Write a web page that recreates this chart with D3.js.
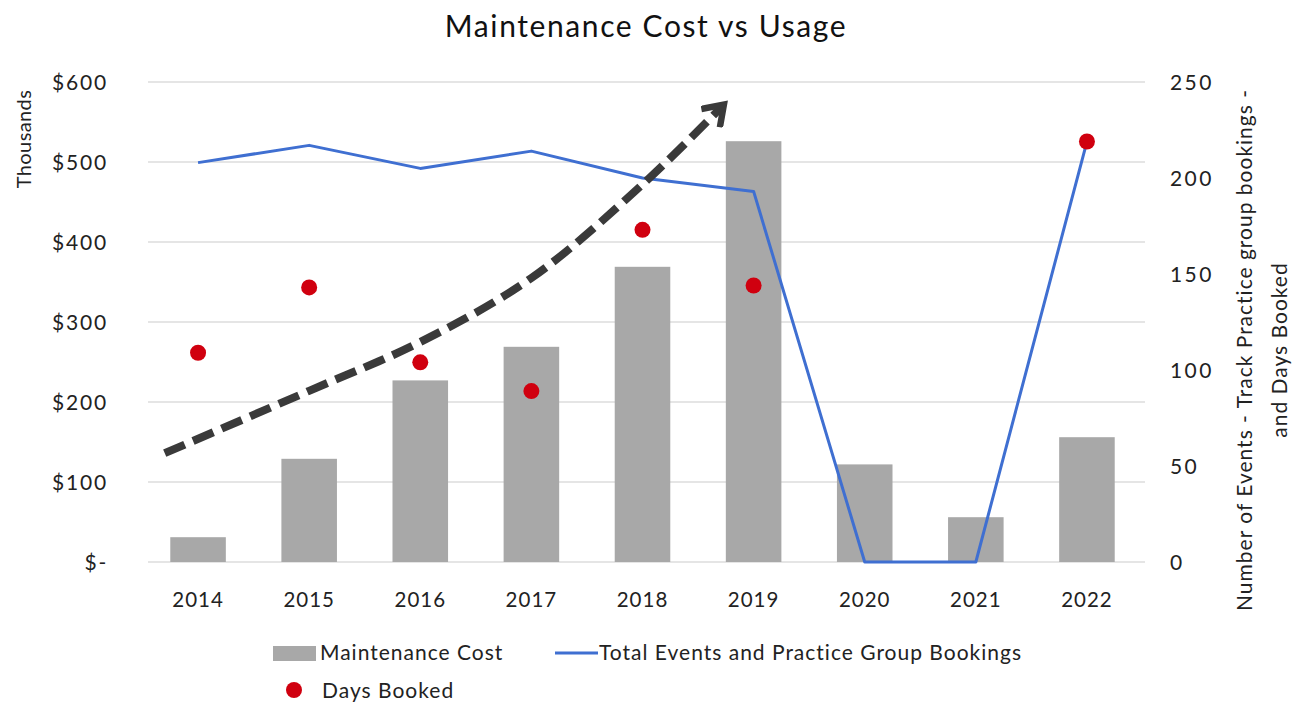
<!DOCTYPE html>
<html>
<head>
<meta charset="utf-8">
<script src="https://cdn.jsdelivr.net/npm/d3@7"></script>
<style>
  html, body { margin: 0; padding: 0; background: #fff; }
  svg { display: block; font-family: "Lato", "Noto Sans", sans-serif; }
</style>
</head>
<body>
<svg id="chart" width="1294" height="703"></svg>
<script>
// ---- data ----
const years = ["2014","2015","2016","2017","2018","2019","2020","2021","2022"];
const maintenanceCost = [31, 129, 227, 269, 369, 526, 122, 56, 156];       // $ thousands
const totalEvents = [208, 217, 205, 214, 200, 193, 0, 0, 219];
const daysBooked = [109, 143, 104, 89, 173, 144, null, null, 219];
const leftTicks = [0, 100, 200, 300, 400, 500, 600];
const rightTicks = [0, 50, 100, 150, 200, 250];
// trend arrow annotation (x = category index, y = $ thousands)
const trendX = [-0.3, 1.0, 2.0, 3.0, 4.0, 4.72];
const trendY = [136, 214, 275, 355, 472, 570];

const svg = d3.select("#chart");
const plotTop = 82, plotBottom = 562, plotLeft = 142.5, plotRight = 1142.5;

const x = d3.scaleBand().domain(years).range([plotLeft, plotRight]).paddingInner(0.5).paddingOuter(0.25);
const yL = d3.scaleLinear().domain([0, 600]).range([plotBottom, plotTop]);
const yR = d3.scaleLinear().domain([0, 250]).range([plotBottom, plotTop]);
const cx = d => x(d) + x.bandwidth() / 2;
const xIdx = d3.scaleLinear().domain([0, years.length - 1]).range([cx(years[0]), cx(years[years.length - 1])]);

// title
svg.append("text").attr("x", 646).attr("y", 37).attr("text-anchor", "middle")
  .attr("font-size", 30).attr("letter-spacing", 1.6).attr("fill", "#111").text("Maintenance Cost vs Usage");

// gridlines
svg.append("g").selectAll("line").data(leftTicks).join("line")
  .attr("x1", 148).attr("x2", 1145)
  .attr("y1", d => yL(d)).attr("y2", d => yL(d))
  .attr("stroke", "#dcdcdc").attr("stroke-width", 1.3);

// left axis
const leftAxis = d3.axisLeft(yL).tickValues(leftTicks).tickSize(0).tickPadding(0)
  .tickFormat(d => d === 0 ? "$-" : "$" + d);
const gL = svg.append("g").attr("transform", "translate(108,0)").call(leftAxis);
gL.select(".domain").remove();
gL.selectAll("text").attr("font-size", 21).attr("letter-spacing", 1.8).attr("fill", "#222")
  .attr("font-family", "Lato, sans-serif").attr("dy", "0.35em");

// right axis
const rightAxis = d3.axisRight(yR).tickValues(rightTicks).tickSize(0).tickPadding(0);
const gR = svg.append("g").attr("transform", "translate(1170,0)").call(rightAxis);
gR.select(".domain").remove();
gR.selectAll("text").attr("font-size", 21).attr("letter-spacing", 2.4).attr("fill", "#222")
  .attr("font-family", "Lato, sans-serif").attr("dy", "0.35em");

// x axis labels
const xAxis = d3.axisBottom(x).tickSize(0).tickPadding(0);
const gX = svg.append("g").attr("transform", "translate(0,607)").call(xAxis);
gX.select(".domain").remove();
gX.selectAll("text").attr("font-size", 20.5).attr("letter-spacing", 1).attr("fill", "#222")
  .attr("font-family", "Lato, sans-serif").attr("dy", 0);

// axis titles
svg.append("text").attr("transform", "translate(31,139) rotate(-90)").attr("text-anchor", "middle")
  .attr("font-size", 20).attr("letter-spacing", 0.4).attr("fill", "#222").text("Thousands");
const rt = svg.append("text").attr("transform", "translate(1252,350) rotate(-90)").attr("text-anchor", "middle")
  .attr("font-size", 21).attr("letter-spacing", 1.0).attr("fill", "#222");
rt.append("tspan").attr("x", 0).attr("dy", 0).text("Number of Events - Track Practice group bookings -");
rt.append("tspan").attr("x", 0).attr("dy", 35).text("and Days Booked");

// bars
svg.append("g").selectAll("rect").data(years).join("rect")
  .attr("x", d => x(d)).attr("width", x.bandwidth())
  .attr("y", (d, i) => yL(maintenanceCost[i]))
  .attr("height", (d, i) => yL(0) - yL(maintenanceCost[i]))
  .attr("fill", "#a8a8a8");

// line
const line = d3.line().x((d, i) => cx(years[i])).y(d => yR(d));
svg.append("path").datum(totalEvents).attr("d", line)
  .attr("fill", "none").attr("stroke", "#3f6fd1").attr("stroke-width", 3).attr("stroke-linejoin", "round");

// dots
svg.append("g").selectAll("circle").data(years.map((y, i) => ({ y, v: daysBooked[i] })).filter(d => d.v != null))
  .join("circle").attr("cx", d => cx(d.y)).attr("cy", d => yR(d.v)).attr("r", 8).attr("fill", "#d0000f");

// trend arrow
const defs = svg.append("defs");
defs.append("marker").attr("id", "chev").attr("viewBox", "0 0 30 30")
  .attr("refX", 22).attr("refY", 15).attr("markerWidth", 30).attr("markerHeight", 30)
  .attr("markerUnits", "userSpaceOnUse").attr("orient", "auto")
  .append("path").attr("d", "M5,2 L24,15 L5,28").attr("fill", "none")
  .attr("stroke", "#3a3a3a").attr("stroke-width", 6.5).attr("stroke-linejoin", "miter");
const trend = d3.line().x(d => xIdx(d[0])).y(d => yL(d[1])).curve(d3.curveCatmullRom);
svg.append("path").datum(trendX.map((v, i) => [v, trendY[i]])).attr("d", trend)
  .attr("fill", "none").attr("stroke", "#3a3a3a").attr("stroke-width", 8)
  .attr("stroke-dasharray", "22,9").attr("marker-end", "url(#chev)");

// legend
const lg = svg.append("g").attr("font-size", 21).attr("letter-spacing", 1.0).attr("fill", "#222");
lg.append("rect").attr("x", 273).attr("y", 646).attr("width", 43).attr("height", 15).attr("fill", "#a8a8a8");
lg.append("text").attr("x", 320).attr("y", 660).text("Maintenance Cost");
lg.append("line").attr("x1", 555).attr("x2", 598).attr("y1", 653).attr("y2", 653).attr("stroke", "#3f6fd1").attr("stroke-width", 3);
lg.append("text").attr("x", 599).attr("y", 660).text("Total Events and Practice Group Bookings");
lg.append("circle").attr("cx", 294).attr("cy", 690).attr("r", 8).attr("fill", "#d0000f");
lg.append("text").attr("x", 322).attr("y", 698).text("Days Booked");
</script>
</body>
</html>
